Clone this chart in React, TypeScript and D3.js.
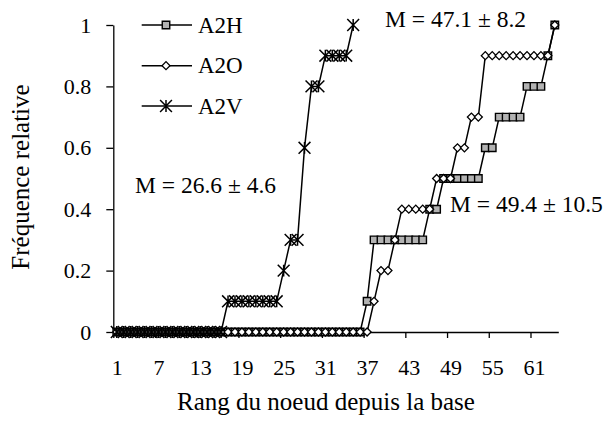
import React, { useRef, useEffect } from 'react';
import * as d3 from 'd3';

// rank of the node counted from the base (x categories)
const ranks = d3.range(1, 65);
const xTickLabels = [1, 7, 13, 19, 25, 31, 37, 43, 49, 55, 61];
const yTicks = [0, 0.2, 0.4, 0.6, 0.8, 1];

// cumulative relative frequency per series
const a2h = [
  0, 0, 0, 0, 0, 0, 0, 0, 0, 0, 0, 0, 0, 0, 0, 0, 0, 0, 0, 0, 0, 0, 0, 0, 0, 0, 0, 0, 0, 0, 0, 0, 0, 0, 0, 0,
  0.1, 0.3, 0.3, 0.3, 0.3, 0.3, 0.3, 0.3, 0.3, 0.4, 0.4, 0.5, 0.5, 0.5, 0.5, 0.5, 0.5,
  0.6, 0.6, 0.7, 0.7, 0.7, 0.7, 0.8, 0.8, 0.8, 0.9, 1
];
const a2o = [
  0, 0, 0, 0, 0, 0, 0, 0, 0, 0, 0, 0, 0, 0, 0, 0, 0, 0, 0, 0, 0, 0, 0, 0, 0, 0, 0, 0, 0, 0, 0, 0, 0, 0, 0, 0, 0,
  0.1, 0.2, 0.2, 0.3, 0.4, 0.4, 0.4, 0.4, 0.4, 0.5, 0.5, 0.5, 0.6, 0.6, 0.7, 0.7,
  0.9, 0.9, 0.9, 0.9, 0.9, 0.9, 0.9, 0.9, 0.9, 0.9, 1
];
const a2v = [
  0, 0, 0, 0, 0, 0, 0, 0, 0, 0, 0, 0, 0, 0, 0, 0,
  0.1, 0.1, 0.1, 0.1, 0.1, 0.1, 0.1, 0.1, 0.2, 0.3, 0.3, 0.6, 0.8, 0.8, 0.9, 0.9, 0.9, 0.9, 1
];

const seriesNames = ['A2H', 'A2O', 'A2V'];
const annotations = ['M = 26.6 ± 4.6', 'M = 47.1 ± 8.2', 'M = 49.4 ± 10.5'];

const FONT = '"Liberation Serif", "Times New Roman", serif';

const symbolStar = {
  draw(ctx, size) {
    const r = Math.sqrt(size) / 2;
    ctx.moveTo(-r, -r);
    ctx.lineTo(r, r);
    ctx.moveTo(r, -r);
    ctx.lineTo(-r, r);
    ctx.moveTo(0, -r);
    ctx.lineTo(0, r);
  }
};

const markers = {
  A2H: { path: d3.symbol(d3.symbolSquare, 56)(), fill: '#b2b2b2', rotate: 0, sw: 1.4 },
  A2O: { path: d3.symbol(d3.symbolSquare, 32)(), fill: '#ffffff', rotate: 45, sw: 1.3 },
  A2V: { path: d3.symbol(symbolStar, 140)(), fill: 'none', rotate: 0, sw: 1.5 }
};

const App = () => {
  const container = useRef(null);

  const width = 610;
  const height = 423;

  useEffect(() => {
    const svg = d3.select(container.current);
    svg.selectAll('*').remove();

    const xScale = d3.scaleLinear().domain([0.5, 64.5]).range([113.3, 558.3]);
    const yScale = d3.scaleLinear().domain([0, 1]).range([332, 25]);

    // y axis
    const yAxis = d3
      .axisLeft(yScale)
      .tickValues(yTicks)
      .tickFormat(d => String(d))
      .tickSize(7)
      .tickSizeOuter(0)
      .tickPadding(15);
    const yg = svg.append('g').attr('transform', 'translate(113.3,0)').call(yAxis);
    yg.attr('font-family', FONT);
    yg.selectAll('text').attr('font-size', 22).attr('fill', '#000');

    // x axis: tick marks between categories, labels on categories
    const xTickAxis = d3
      .axisBottom(xScale)
      .tickValues(xTickLabels.map(d => d - 0.5))
      .tickFormat(() => '')
      .tickSize(6)
      .tickSizeOuter(0);
    svg.append('g').attr('transform', 'translate(0,332)').call(xTickAxis);

    const xLabelAxis = d3
      .axisBottom(xScale)
      .tickValues(xTickLabels)
      .tickFormat(d => String(d))
      .tickSize(0)
      .tickPadding(27);
    const xl = svg.append('g').attr('transform', 'translate(0,332)').call(xLabelAxis);
    xl.attr('font-family', FONT);
    xl.select('.domain').remove();
    xl.selectAll('text').attr('font-size', 22).attr('fill', '#000');

    svg.selectAll('.domain, .tick line').attr('stroke', '#000').attr('stroke-width', 1.3);

    // axis titles
    svg
      .append('text')
      .attr('x', 326)
      .attr('y', 410)
      .attr('text-anchor', 'middle')
      .attr('font-size', 25)
      .attr('font-family', FONT)
      .text('Rang du noeud depuis la base');

    svg
      .append('text')
      .attr('transform', 'translate(29,177) rotate(-90)')
      .attr('text-anchor', 'middle')
      .attr('font-size', 25)
      .attr('font-family', FONT)
      .text('Fréquence relative');

    // series
    const allSeries = [a2h, a2o, a2v];
    const line = d3
      .line()
      .x(d => xScale(d[0]))
      .y(d => yScale(d[1]));

    allSeries.forEach((vals, si) => {
      const name = seriesNames[si];
      const m = markers[name];
      const pts = vals.map((v, i) => [ranks[i], v]);
      const g = svg.append('g');
      g.append('path')
        .attr('d', line(pts))
        .attr('fill', 'none')
        .attr('stroke', '#000')
        .attr('stroke-width', 1.5);
      g.selectAll('.mk')
        .data(pts)
        .join('path')
        .attr('class', 'mk')
        .attr('d', m.path)
        .attr('transform', d => `translate(${xScale(d[0])},${yScale(d[1])}) rotate(${m.rotate})`)
        .attr('fill', m.fill)
        .attr('stroke', '#000')
        .attr('stroke-width', m.sw);
    });

    // legend
    const legendY = [25, 65.7, 106];
    seriesNames.forEach((name, i) => {
      const m = markers[name];
      const lg = svg.append('g').attr('transform', `translate(0,${legendY[i]})`);
      lg.append('line')
        .attr('x1', 141.7)
        .attr('x2', 192)
        .attr('stroke', '#000')
        .attr('stroke-width', 1.5);
      lg.append('path')
        .attr('d', m.path)
        .attr('transform', `translate(166,0) rotate(${m.rotate})`)
        .attr('fill', m.fill)
        .attr('stroke', '#000')
        .attr('stroke-width', m.sw);
      lg.append('text')
        .attr('x', 198)
        .attr('y', 7.5)
        .attr('font-size', 23)
        .attr('font-family', FONT)
        .text(name);
    });

    // mean annotations
    const annPos = [
      [135, 193],
      [385, 27],
      [450, 212]
    ];
    annotations.forEach((t, i) => {
      svg
        .append('text')
        .attr('x', annPos[i][0])
        .attr('y', annPos[i][1])
        .attr('font-size', 23.5)
        .attr('font-family', FONT)
        .text(t);
    });
  }, []);

  return (
    <svg
      ref={container}
      width={width}
      height={height}
      style={{ position: 'absolute', left: 0, top: 0, background: '#fff' }}
    />
  );
};

export default App;
